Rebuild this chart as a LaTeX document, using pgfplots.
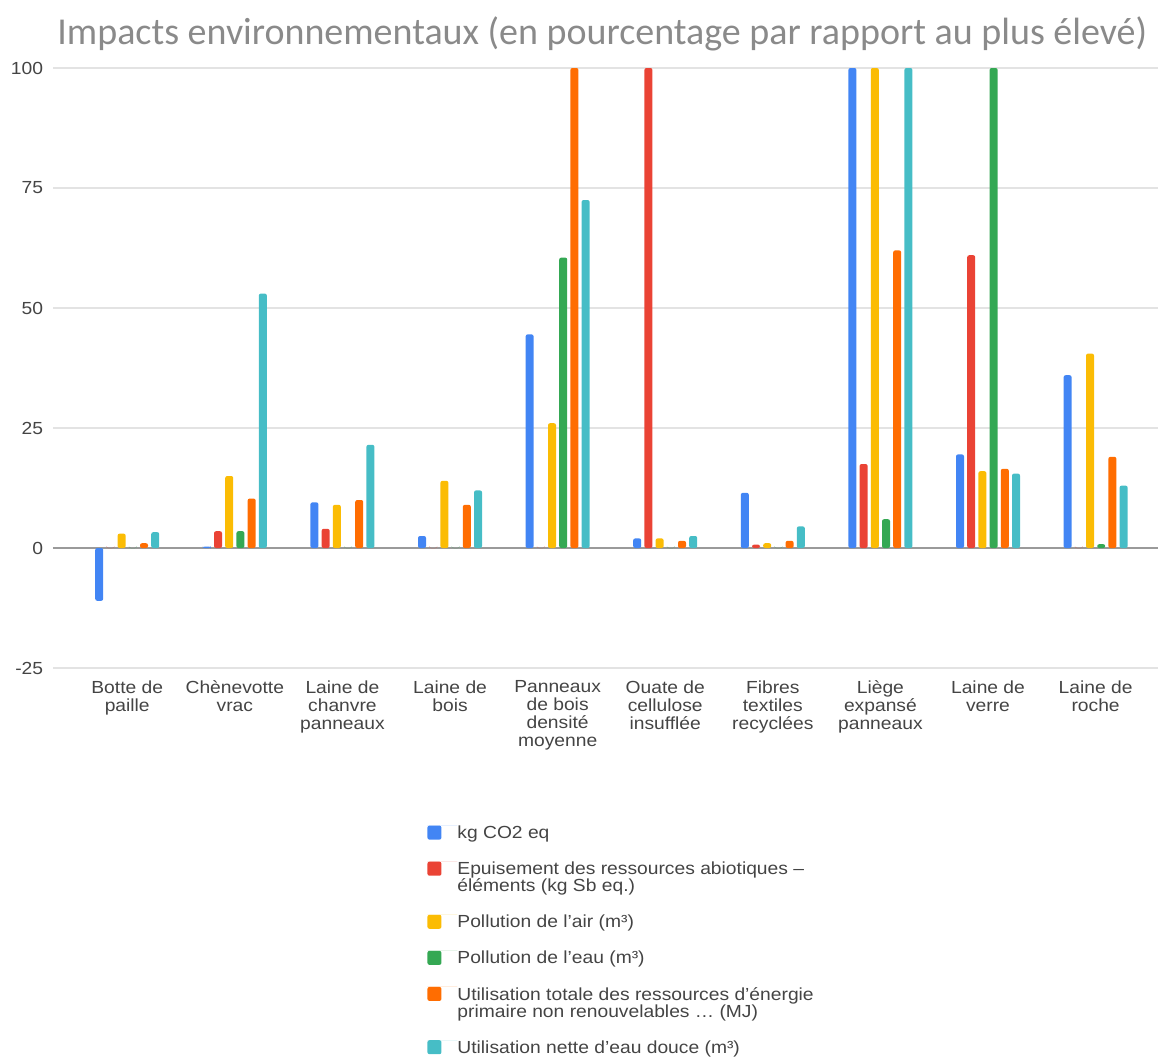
\documentclass[border=0pt]{standalone}
\usepackage{pgfplots}
\pgfplotsset{compat=1.18}
\usepackage{pgfplotstable}
\usepackage{fontspec}
\setmainfont[FakeStretch=1.1]{Liberation Sans}
\newfontfamily\titlefont{Carlito}

\definecolor{cBlue}{HTML}{4285F4}
\definecolor{cRed}{HTML}{EA4335}
\definecolor{cYellow}{HTML}{FBBC04}
\definecolor{cGreen}{HTML}{34A853}
\definecolor{cOrange}{HTML}{FF6D01}
\definecolor{cTeal}{HTML}{46BDC6}
\definecolor{txt}{HTML}{444444}
\definecolor{titlegray}{HTML}{8A8A8A}
\definecolor{gridgray}{HTML}{E3E3E3}
\definecolor{zerogray}{HTML}{9A9A9A}

% Impact of each insulation material, in % of the highest value
\pgfplotstableread{
x   co2   abio   air    eau    energie  douce
0  -11    0      3      0      1        3.3
1   0.3   3.5    15     3.5    10.3     53
2   9.5   4      9      0      10       21.5
3   2.5   0      14     0      9        12
4   44.5  0      26     60.5   100      72.5
5   2     100    2      0      1.5      2.5
6   11.5  0.7    1      0      1.5      4.5
7   100   17.5   100    6      62       100
8   19.5  61     16     100    16.5     15.5
9   36    0      40.5   0.8    19       13
}\impacts

\begin{document}
\begin{tikzpicture}
\useasboundingbox (-26.5pt,-197pt) rectangle (552.5pt,334pt);

\node[anchor=base west, inner sep=0pt, text=titlegray,
      font=\titlefont\fontsize{19}{22}\selectfont] at (2pt,311.5pt)
  {Impacts environnementaux (en pourcentage par rapport au plus élevé)};

\begin{axis}[
  at={(0pt,0pt)}, anchor=south west,
  scale only axis, width=552.5pt, height=300pt,
  xmin=-0.69, xmax=9.58, ymin=-25, ymax=100,
  clip=false,
  ybar=1.6pt, bar width=4pt,
  axis line style={draw=none},
  major tick length=0pt,
  ytick={-25,25,50,75,100},
  extra y ticks={0},
  extra y tick style={major grid style={draw=zerogray, line width=1pt}},
  ymajorgrids,
  major grid style={draw=gridgray, line width=0.9pt},
  /pgf/number format/assume math mode=true,
  yticklabel style={anchor=east, inner sep=0pt, xshift=-4.75pt,
                    text=txt, font=\fontsize{8.75}{9}\selectfont},
  xtick={0,...,9},
  xticklabels={{Botte de\\paille}, {Chènevotte\\vrac},
               {Laine de\\chanvre\\panneaux}, {Laine de\\bois},
               {Panneaux\\de bois\\densité\\moyenne},
               {Ouate de\\cellulose\\insufflée},
               {Fibres\\textiles\\recyclées},
               {Liège\\expansé\\panneaux}, {Laine de\\verre},
               {Laine de\\roche}},
  xticklabel style={anchor=north, inner sep=0pt, yshift=-6pt,
                    align=center, text=txt,
                    font=\fontsize{8.75}{9}\selectfont},
  every axis plot/.append style={draw=none, rounded corners=1pt},
  legend image code/.code={%
    \fill[#1] (0pt,-7pt) rectangle (7pt,0pt);
    \path (0pt,0pt) -- (15pt,0pt);},
  legend cell align=left,
  legend style={at={(axis description cs:0.3385,-0.262)},
                anchor=north west, draw=none, fill=none,
                inner sep=0pt, row sep=10pt, column sep=0pt,
                nodes={inner sep=0pt},
                cells={anchor=north west, align=left},
                text=txt, font=\fontsize{8.75}{8.5}\selectfont},
]
\addplot[fill=cBlue]   table[x=x, y=co2]     {\impacts};
\addlegendentry{kg CO2 eq}
\addplot[fill=cRed]    table[x=x, y=abio]    {\impacts};
\addlegendentry{Epuisement des ressources abiotiques –\\éléments (kg Sb eq.)}
\addplot[fill=cYellow] table[x=x, y=air]     {\impacts};
\addlegendentry{Pollution de l’air (m³)}
\addplot[fill=cGreen]  table[x=x, y=eau]     {\impacts};
\addlegendentry{Pollution de l’eau (m³)}
\addplot[fill=cOrange] table[x=x, y=energie] {\impacts};
\addlegendentry{Utilisation totale des ressources d’énergie\\primaire non renouvelables \ldots{} (MJ)}
\addplot[fill=cTeal]   table[x=x, y=douce]   {\impacts};
\addlegendentry{Utilisation nette d’eau douce (m³)}
\end{axis}
\end{tikzpicture}
\end{document}
